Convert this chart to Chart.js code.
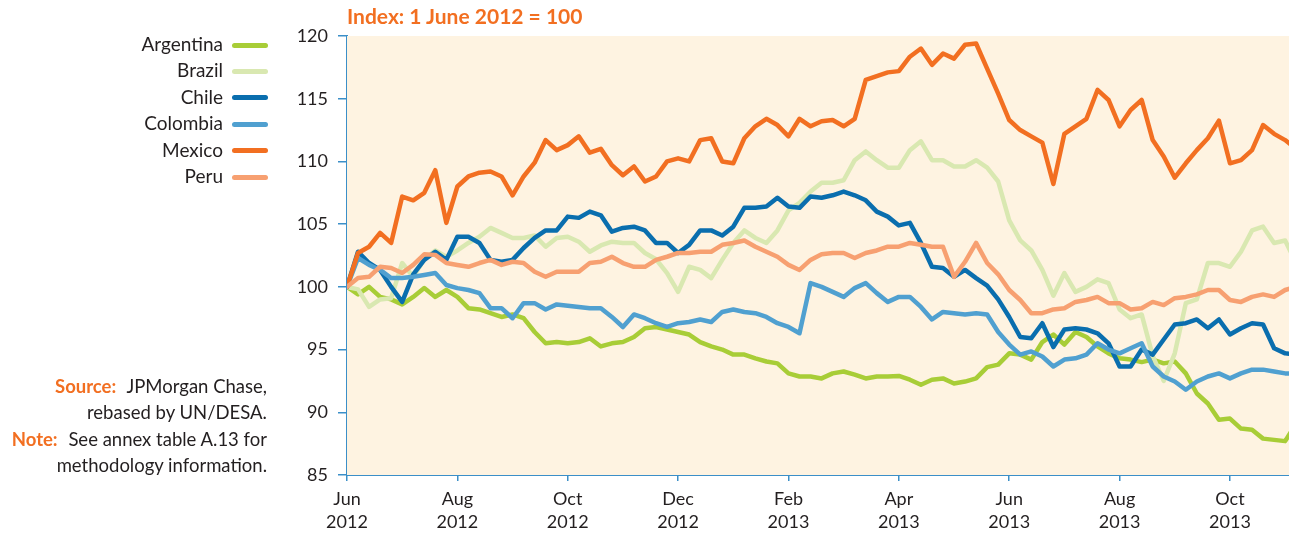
<!DOCTYPE html>
<html>
<head>
<meta charset="utf-8">
<script src="https://cdn.jsdelivr.net/npm/chart.js@4.4.1/dist/chart.umd.min.js"></script>
<style>
    body { margin: 0; background: #fff; font-family: Lato, "Open Sans", sans-serif; color: #231f20; }
    #wrap { position: relative; width: 1289px; height: 533px; }
    #canvas1 { position: absolute; left: 0; top: 0; }
    .titulo { position: absolute; left: 347px; top: 3px; font-size: 21px; font-weight: bold; color: #f26f21; white-space: nowrap; }
    .leyenda { position: absolute; left: 0; top: 31px; width: 268px; }
    .leyenda div { height: 26.4px; line-height: 26px; font-size: 19px; text-align: right; white-space: nowrap; }
    .leyenda span.linea { display: inline-block; width: 36px; height: 5px; border-radius: 3px; margin-left: 9px; vertical-align: middle; position: relative; top: -1px; }
    .nota { position: absolute; right: 1022px; top: 374px; font-size: 18.5px; line-height: 25.5px; text-align: right; white-space: nowrap; }
    .nota p { margin: 0 0 2px 0; }
    .nota b { color: #f26f21; margin-right: 6px; }
</style>
</head>
<body>
<div id="wrap">
    <canvas id="canvas1" width="1289" height="533"></canvas>
    <div class="titulo">Index: 1 June 2012 = 100</div>
    <div class="leyenda" id="leyenda"></div>
    <div class="nota">
        <p><b>Source:</b> JPMorgan Chase,<br>rebased by UN/DESA.</p>
        <p><b>Note:</b> See annex table A.13 for<br>methodology information.</p>
    </div>
</div>
<script>
var paises = ["Argentina", "Brazil", "Chile", "Colombia", "Mexico", "Peru"];
var colores = ["#a8cd37", "#d9e8b1", "#0a6eae", "#50a0d0", "#f26f21", "#f7a071"];
var etiquetas = [["Jun","2012"],["Aug","2012"],["Oct","2012"],["Dec","2012"],["Feb","2013"],["Apr","2013"],["Jun","2013"],["Aug","2013"],["Oct","2013"]];

// one value every fifth of a month, starting 1 June 2012
var argentina = [100,99.4,100.0,99.2,99.0,98.6,99.2,99.9,99.2,99.75,99.2,98.3,98.2,97.9,97.6,97.8,97.5,96.4,95.5,95.6,95.5,95.6,95.9,95.25,95.5,95.6,96.0,96.7,96.8,96.6,96.4,96.2,95.6,95.25,95.0,94.6,94.6,94.3,94.05,93.9,93.1,92.85,92.85,92.7,93.1,93.25,93.0,92.7,92.85,92.85,92.9,92.6,92.2,92.6,92.7,92.3,92.45,92.7,93.6,93.8,94.7,94.6,94.2,95.6,96.2,95.4,96.4,96.0,95.25,94.7,94.3,94.2,94.0,94.2,93.9,94.05,93.1,91.5,90.7,89.4,89.5,88.7,88.6,87.9,87.8,87.7,89.1];
var brazil = [100,99.8,98.4,99.0,99.1,101.9,100.8,102.2,102.9,102.4,102.9,103.5,104.0,104.7,104.3,103.9,103.9,104.1,103.2,103.9,104.0,103.6,102.8,103.3,103.6,103.5,103.5,102.7,102.2,101.1,99.6,101.6,101.35,100.7,102.15,103.5,104.5,103.9,103.5,104.5,106.1,106.7,107.6,108.3,108.3,108.5,110.1,110.8,110.1,109.5,109.5,110.9,111.6,110.1,110.1,109.6,109.6,110.1,109.5,108.4,105.3,103.7,102.9,101.35,99.3,101.1,99.6,100.0,100.6,100.3,98.2,97.5,97.8,94.5,92.5,94.7,98.7,99.0,101.9,101.9,101.6,102.8,104.5,104.8,103.5,103.7,101.9];
var chile = [100,102.8,101.9,101.35,100.0,98.8,101.0,102.15,102.8,102.15,104.0,104.0,103.5,102.15,102.0,102.15,103.1,103.9,104.5,104.5,105.6,105.5,106.0,105.7,104.4,104.7,104.8,104.5,103.5,103.5,102.7,103.35,104.5,104.5,104.1,104.8,106.3,106.3,106.4,107.1,106.4,106.3,107.2,107.1,107.3,107.6,107.3,106.9,106.0,105.6,104.9,105.1,103.5,101.6,101.5,100.8,101.35,100.7,100.1,99.0,97.6,96.0,95.9,97.1,95.2,96.6,96.7,96.6,96.3,95.5,93.65,93.65,95.0,94.6,95.8,97.0,97.1,97.4,96.7,97.4,96.2,96.7,97.1,97.0,95.1,94.7,94.6];
var colombia = [100,102.3,101.75,101.35,100.7,100.7,100.8,100.95,101.1,100.15,99.9,99.75,99.5,98.3,98.3,97.5,98.7,98.7,98.2,98.6,98.5,98.4,98.3,98.3,97.6,96.8,97.8,97.5,97.1,96.8,97.1,97.2,97.4,97.2,98.0,98.2,98.0,97.9,97.6,97.1,96.8,96.3,100.3,100.0,99.6,99.2,99.9,100.3,99.5,98.8,99.2,99.2,98.4,97.4,98.0,97.9,97.8,97.9,97.8,96.4,95.4,94.6,94.85,94.45,93.65,94.2,94.3,94.6,95.5,95.0,94.7,95.1,95.5,93.65,92.85,92.45,91.8,92.45,92.85,93.1,92.7,93.1,93.4,93.4,93.25,93.1,93.1];
var mexico = [100,102.7,103.2,104.3,103.5,107.2,106.9,107.5,109.3,105.1,108.0,108.8,109.1,109.2,108.8,107.3,108.8,109.9,111.7,110.9,111.3,112.0,110.7,111.0,109.7,108.9,109.6,108.4,108.8,110.0,110.25,110.0,111.7,111.85,110.0,109.85,111.85,112.8,113.4,112.9,112.0,113.4,112.8,113.2,113.3,112.8,113.4,116.5,116.8,117.1,117.2,118.35,119.0,117.7,118.6,118.2,119.3,119.4,117.4,115.4,113.3,112.5,112.0,111.5,108.2,112.2,112.8,113.4,115.7,114.9,112.8,114.1,114.9,111.7,110.4,108.7,109.85,110.9,111.85,113.25,109.85,110.1,110.9,112.9,112.2,111.7,111.0];
var peru = [100,100.7,100.8,101.6,101.5,101.1,101.75,102.6,102.55,101.9,101.75,101.6,101.9,102.15,101.75,102.0,101.9,101.2,100.8,101.2,101.2,101.2,101.9,102.0,102.4,101.9,101.6,101.6,102.15,102.4,102.7,102.7,102.8,102.8,103.35,103.5,103.7,103.2,102.8,102.4,101.75,101.35,102.15,102.6,102.7,102.7,102.3,102.7,102.9,103.2,103.2,103.5,103.35,103.2,103.2,100.8,102.0,103.5,101.9,101.0,99.75,98.95,97.9,97.9,98.2,98.3,98.8,98.95,99.2,98.7,98.7,98.2,98.3,98.8,98.55,99.1,99.2,99.4,99.75,99.75,98.95,98.8,99.2,99.4,99.2,99.75,100.0];

var series = [argentina, brazil, chile, colombia, mexico, peru];

function puntos(valores)
{
    var aux = [];
    for(var i = 0; i < valores.length; i++)
    {
        aux.push({x: i / 5, y: valores[i]});
    }
    return aux;
}

var leyenda = document.getElementById("leyenda");
for(var i = 0; i < paises.length; i++)
{
    leyenda.innerHTML += "<div>" + paises[i] + "<span class=\"linea\" style=\"background:" + colores[i] + "\"></span></div>";
}

var fondo = {
    id: "fondo",
    beforeDatasetsDraw: function(chart)
    {
        var a = chart.chartArea;
        var ctx = chart.ctx;
        ctx.save();
        ctx.fillStyle = "#fef3e1";
        ctx.fillRect(a.left, a.top, a.right - a.left, a.bottom - a.top);
        ctx.restore();
    }
};

var datasets = [];
for(var i = 0; i < series.length; i++)
{
    datasets.push({
        label: paises[i],
        data: puntos(series[i]),
        borderColor: colores[i],
        borderWidth: 4.5,
        pointRadius: 0,
        tension: 0,
        borderCapStyle: "round",
        borderJoinStyle: "round",
        order: series.length - i
    });
}

var azul = "#3b8fc8";
var fuente = {family: "Lato, 'Open Sans', sans-serif", size: 18};

new Chart(document.getElementById("canvas1"), {
    type: "line",
    data: {datasets: datasets},
    plugins: [fondo],
    options: {
        responsive: false,
        animation: false,
        layout: {padding: {left: 0, right: 0, top: 36, bottom: 0}},
        plugins: {legend: {display: false}, tooltip: {enabled: false}},
        scales: {
            x: {
                type: "linear",
                min: 0,
                max: 17.07,
                afterBuildTicks: function(scale)
                {
                    var t = [];
                    for(var i = 0; i < etiquetas.length; i++) t.push({value: i * 2});
                    scale.ticks = t;
                },
                afterFit: function(scale) { scale.height = 58; },
                ticks: {
                    autoSkip: false,
                    maxRotation: 0,
                    padding: 7,
                    color: "#231f20",
                    font: {family: fuente.family, size: 18, lineHeight: 1.28},
                    callback: function(value) { return etiquetas[value / 2]; }
                },
                grid: {drawOnChartArea: false, color: azul, tickLength: 6, lineWidth: 1.5},
                border: {color: azul, width: 2}
            },
            y: {
                min: 85,
                max: 120,
                afterFit: function(scale) { scale.width = 347; },
                ticks: {stepSize: 5, padding: 10, color: "#231f20", font: fuente},
                grid: {drawOnChartArea: false, color: azul, tickLength: 9, lineWidth: 1.5},
                border: {color: azul, width: 2}
            }
        }
    }
});
</script>
</body>
</html>
